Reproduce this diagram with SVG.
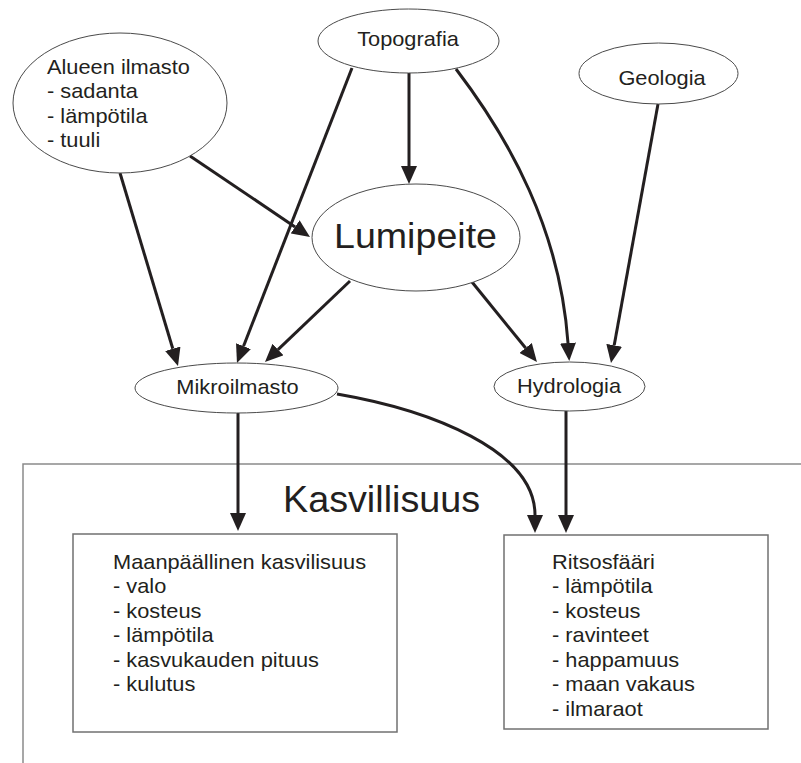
<svg xmlns="http://www.w3.org/2000/svg" width="801" height="763" viewBox="0 0 801 763">
<defs>
<style>
.ell{fill:#fff;stroke:#4a4a4a;stroke-width:1}
.box{fill:#fff;stroke:#707070;stroke-width:1.5}
.t{font-family:"Liberation Sans",Arial,sans-serif;font-size:20px;fill:#231f20}
.big{font-family:"Liberation Sans",Arial,sans-serif;fill:#231f20}
.c{text-anchor:middle}
.con{fill:none;stroke:#231f20;stroke-width:3;marker-end:url(#ah)}
</style>
<marker id="ah" markerUnits="userSpaceOnUse" markerWidth="18" markerHeight="16" viewBox="0 0 18 16" refX="0" refY="8" orient="auto">
<path d="M0,0 L18,8 L0,16 Z" fill="#231f20"/>
</marker>
</defs>
<rect width="801" height="763" fill="#fff"/>
<g id="kasvillisuus">
<path d="M801,464 H23 V763" fill="none" stroke="#8a8a8a" stroke-width="1.5"/>
<text class="big" font-size="37" transform="translate(283,512) scale(1.02,1)">Kasvillisuus</text>
</g>
<g id="connectors">
<path class="con" d="M409,73 L409,166"/>
<path class="con" d="M190,156 L295.1,226.9"/>
<path class="con" d="M120,173 L172.8,348.8"/>
<path class="con" d="M352,68 L243.5,346.2"/>
<path class="con" d="M350,281 L278,349.6"/>
<path class="con" d="M472,282 L525.6,348"/>
<path class="con" d="M456,69 C510,140 560,230 568,343"/>
<path class="con" d="M658,104 L614.2,345.3"/>
<path class="con" d="M238,413 L238,513"/>
<path class="con" d="M337,394 C430,410 535,450 535,515"/>
<path class="con" d="M566,411 L566,515"/>
</g>
<g id="alueen-ilmasto">
<ellipse class="ell" cx="120" cy="103" rx="107" ry="70"/>
<text class="t" transform="translate(47,74) scale(1.09,1)"><tspan x="0" y="0">Alueen ilmasto</tspan><tspan x="0" y="24.5">- sadanta</tspan><tspan x="0" y="49">- lämpötila</tspan><tspan x="0" y="73.5">- tuuli</tspan></text>
</g>
<g id="topografia">
<ellipse class="ell" cx="408.5" cy="41" rx="90.5" ry="32"/>
<text class="t c" transform="translate(408,46) scale(1.09,1)">Topografia</text>
</g>
<g id="geologia">
<ellipse class="ell" cx="658.5" cy="73.5" rx="79.5" ry="30.5"/>
<text class="t c" transform="translate(662,85) scale(1.09,1)">Geologia</text>
</g>
<g id="lumipeite">
<ellipse class="ell" cx="416" cy="237.5" rx="104" ry="53.5"/>
<text class="big c" font-size="36" transform="translate(415.5,248) scale(1.045,1)">Lumipeite</text>
</g>
<g id="mikroilmasto">
<ellipse class="ell" cx="236.5" cy="388" rx="101.5" ry="25"/>
<text class="t c" transform="translate(237.5,394) scale(1.09,1)">Mikroilmasto</text>
</g>
<g id="hydrologia">
<ellipse class="ell" cx="569.5" cy="386.5" rx="75.5" ry="24.5"/>
<text class="t c" transform="translate(569,393) scale(1.09,1)">Hydrologia</text>
</g>
<g id="maanpaallinen">
<rect class="box" x="73" y="534" width="324" height="198"/>
<text class="t" transform="translate(113,569) scale(1.09,1)"><tspan x="0" y="0">Maanpäällinen kasvilisuus</tspan><tspan x="0" y="24.5">- valo</tspan><tspan x="0" y="49">- kosteus</tspan><tspan x="0" y="73.5">- lämpötila</tspan><tspan x="0" y="98">- kasvukauden pituus</tspan><tspan x="0" y="122.5">- kulutus</tspan></text>
</g>
<g id="ritsosfaari">
<rect class="box" x="504" y="535" width="264" height="194"/>
<text class="t" transform="translate(552,569) scale(1.09,1)"><tspan x="0" y="0">Ritsosfääri</tspan><tspan x="0" y="24.5">- lämpötila</tspan><tspan x="0" y="49">- kosteus</tspan><tspan x="0" y="73.5">- ravinteet</tspan><tspan x="0" y="98">- happamuus</tspan><tspan x="0" y="122.5">- maan vakaus</tspan><tspan x="0" y="147">- ilmaraot</tspan></text>
</g>
</svg>
